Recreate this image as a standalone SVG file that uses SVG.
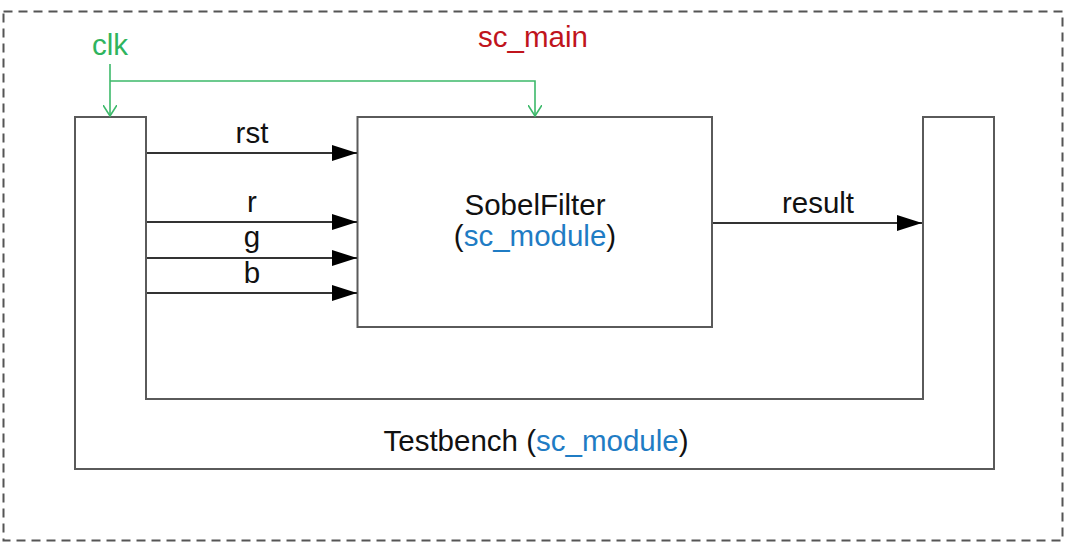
<svg xmlns="http://www.w3.org/2000/svg" width="1072" height="550" viewBox="0 0 1072 550">
<style>
  text { font-family: "Liberation Sans", Arial, sans-serif; font-size: 29.5px; fill: #111; }
  .box { fill: #fff; stroke: #5a5a5a; stroke-width: 2; }
  .wire { fill: none; stroke: #333; stroke-width: 2; }
  .clk { fill: none; stroke: #3cb96a; stroke-width: 1.6; }
  .green { fill: #2fb45e; }
  .red { fill: #c0141c; }
  .blue { fill: #1f7cc4; }
  .mid { text-anchor: middle; }
</style>
<defs>
  <marker id="arr" markerWidth="26" markerHeight="16" refX="25" refY="8" orient="auto" markerUnits="userSpaceOnUse">
    <path d="M0,0 L25,8 L0,16 Z" fill="#000"/>
  </marker>
  <marker id="varr" markerWidth="20" markerHeight="14" refX="11" refY="7" orient="auto" markerUnits="userSpaceOnUse">
    <path d="M0,0 L11,7 L0,14" fill="none" stroke="#3cb96a" stroke-width="1.6"/>
  </marker>
</defs>
<rect width="1072" height="550" fill="#fff"/>
<g id="sc_main">
  <rect x="3.5" y="11.5" width="1059" height="529" fill="none" stroke="#555" stroke-width="2" stroke-dasharray="9,6"/>
  <text class="red mid" x="533" y="47">sc_main</text>
</g>
<g id="testbench">
  <path class="box" d="M75,117 H146 V399 H923 V117 H994 V469 H75 Z"/>
  <text class="mid" x="536" y="451">Testbench (<tspan class="blue">sc_module</tspan>)</text>
</g>
<g id="sobelfilter">
  <rect class="box" x="357.5" y="117" width="354.5" height="210"/>
  <text class="mid" x="535" y="215">SobelFilter</text>
  <text class="mid" x="535" y="246">(<tspan class="blue">sc_module</tspan>)</text>
</g>
<g id="clk">
  <text class="green mid" x="110" y="55">clk</text>
</g>
<g id="connectors">
  <path class="clk" d="M110,64 V116" marker-end="url(#varr)"/>
  <path class="clk" d="M110,81 H535 V116" marker-end="url(#varr)"/>
  <line class="wire" x1="147" y1="153" x2="357" y2="153" marker-end="url(#arr)"/>
  <line class="wire" x1="147" y1="222" x2="357" y2="222" marker-end="url(#arr)"/>
  <line class="wire" x1="147" y1="258" x2="357" y2="258" marker-end="url(#arr)"/>
  <line class="wire" x1="147" y1="293" x2="357" y2="293" marker-end="url(#arr)"/>
  <line class="wire" x1="713" y1="223" x2="922" y2="223" marker-end="url(#arr)"/>
  <text class="mid" x="252" y="143">rst</text>
  <text class="mid" x="252" y="212">r</text>
  <text class="mid" x="252" y="247">g</text>
  <text class="mid" x="252" y="283">b</text>
  <text class="mid" x="818" y="213">result</text>
</g>
</svg>
